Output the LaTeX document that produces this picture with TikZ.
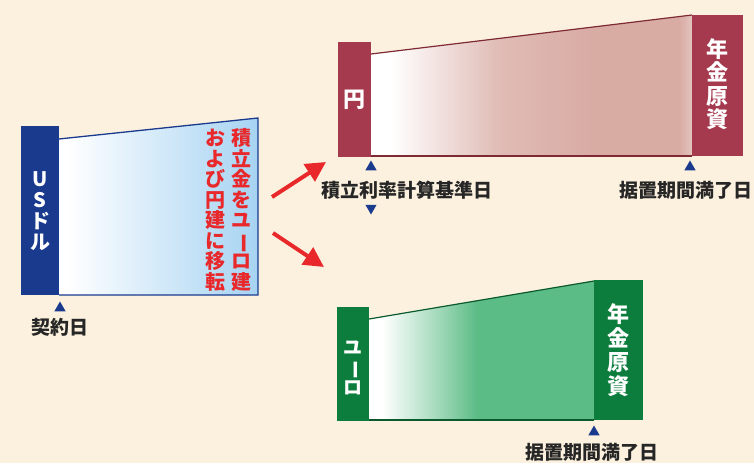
\documentclass[tikz,border=0pt]{standalone}
\usepackage{fontspec}
\usepackage{graphicx}
\usetikzlibrary{arrows.meta,shapes.geometric}
\newfontfamily\jp{Noto Sans CJK JP}
\definecolor{bg}{HTML}{FCF1DE}
\definecolor{navy}{HTML}{1A3A8E}
\definecolor{bluelight}{HTML}{A6D3F2}
\definecolor{maroon}{HTML}{A53A4E}
\definecolor{maroondark}{HTML}{7E2A34}
\definecolor{roselight}{HTML}{D8ABA3}
\definecolor{greenbar}{HTML}{0C7D3D}
\definecolor{greendark}{HTML}{0A5A2E}
\definecolor{greenlight}{HTML}{5CBC86}
\definecolor{redtxt}{HTML}{E8282A}
\pgfdeclarehorizontalshading{blueshade}{100bp}{color(0bp)=(white); color(25bp)=(white); color(27bp)=(white); color(75bp)=(bluelight); color(100bp)=(bluelight)}
\pgfdeclarehorizontalshading{roseshade}{100bp}{color(0bp)=(white); color(25bp)=(white); color(28bp)=(white); color(45bp)=(roselight!80); color(60bp)=(roselight); color(73bp)=(roselight); color(75bp)=(roselight!70); color(100bp)=(roselight!70)}
\pgfdeclarehorizontalshading{greenshade}{100bp}{color(0bp)=(white); color(25bp)=(white); color(28bp)=(white); color(40bp)=(greenlight!55); color(49bp)=(greenlight); color(100bp)=(greenlight)}
\newcommand{\vbar}{\rotatebox[origin=c]{-90}{ー}}
\begin{document}
\begin{tikzpicture}[x=1pt,y=-1pt,
  bartext/.style={text=white,align=center,inner sep=0pt,font=\jp\bfseries\fontsize{20}{21}\selectfont},
  bigbartext/.style={text=white,align=center,inner sep=0pt,font=\jp\bfseries\fontsize{22}{23.5}\selectfont},
  redtext/.style={text=redtxt,align=center,inner sep=0pt,font=\jp\bfseries\fontsize{20}{20.5}\selectfont},
  datelabel/.style={text=black!85,inner sep=0pt,font=\jp\bfseries\fontsize{19}{20}\selectfont},
  uptri/.style={shape=regular polygon,regular polygon sides=3,fill=navy,inner sep=0pt,minimum size=13pt},
  downtri/.style={uptri,shape border rotate=180},
  bigarrow/.style={redtxt,line width=4pt,-{Triangle[length=20pt,width=20pt]}}]
\useasboundingbox (0,0) rectangle (754,463);
\fill[bg] (0,0) rectangle (754,463);

% ---------- US dollar block
\shade[shading=blueshade] (59,139) -- (258,118) -- (258,295) -- (59,295) -- cycle;
\draw[navy,line width=1.3pt] (59,139) -- (258,118) -- (258,295) -- (59,295);
\fill[navy] (21,126) rectangle (59,295);
\node[bartext] (usd) at (40,211) {U\\S\\ド\\ル};
\node[redtext] (move1) at (241,210) {積\\立\\金\\を\\ユ\\\vbar\\ロ\\建};
\node[redtext] (move2) at (215,210) {お\\よ\\び\\円\\建\\に\\移\\転};
\node[uptri] (t1) at (60,308) {};
\node[datelabel] (contract) at (60,327) {契約日};

% ---------- Yen block
\shade[shading=roseshade] (371,54) -- (692,15) -- (692,156) -- (371,156) -- cycle;
\draw[maroondark,line width=1.2pt] (371,54) -- (692,15);
\draw[maroondark,line width=1.2pt] (371,156) -- (692,156);
\fill[maroon] (338,42) rectangle (371,157);
\fill[maroon] (692,15) rectangle (743,156);
\node[bigbartext] (yen) at (354,100) {円};
\node[bigbartext] (nenkin1) at (717,84) {年\\金\\原\\資};
\node[uptri] (t2) at (371,167) {};
\node[datelabel] (kijun) at (407,190) {積立利率計算基準日};
\node[downtri] (t3) at (371,208) {};
\node[uptri] (t4) at (690,167) {};
\node[datelabel,anchor=east] (manryo1) at (753,190) {据置期間満了日};

% ---------- Euro block
\shade[shading=greenshade] (369,319) -- (594,281) -- (594,420) -- (369,420) -- cycle;
\draw[greendark,line width=1.2pt] (369,319) -- (594,281);
\draw[greendark,line width=1.2pt] (369,420) -- (594,420);
\fill[greenbar] (337,307) rectangle (369,421);
\fill[greenbar] (594,280) rectangle (643,420);
\node[bartext,font=\jp\bfseries\fontsize{19}{20}\selectfont] (euro) at (353,368) {ユ\\\vbar\\ロ};
\node[bigbartext,font=\jp\bfseries\fontsize{22}{24}\selectfont] (nenkin2) at (618,350) {年\\金\\原\\資};
\node[uptri] (t5) at (594,432) {};
\node[datelabel] (manryo2) at (592,452) {据置期間満了日};

% ---------- arrows
\coordinate (a1s) at (272,197);
\coordinate (a1e) at (326,162);
\coordinate (a2s) at (273,233);
\coordinate (a2e) at (324,267);
\draw[bigarrow] (a1s) -- (a1e);
\draw[bigarrow] (a2s) -- (a2e);
\end{tikzpicture}
\end{document}
